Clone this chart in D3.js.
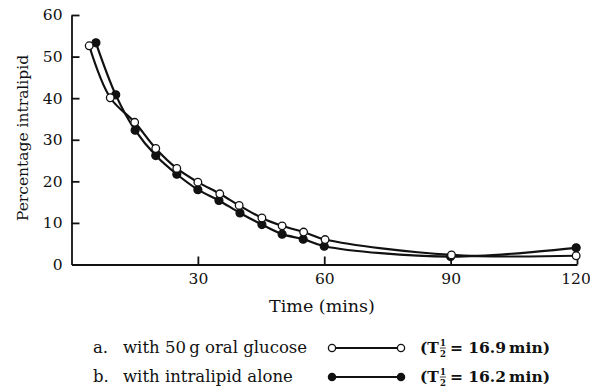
<!DOCTYPE html>
<html><head><meta charset="utf-8">
<script src="https://cdn.jsdelivr.net/npm/d3@7"></script>
<style>
body{margin:0;background:#fff;}
svg{display:block;}
text{font-family:"DejaVu Serif","Liberation Serif",serif;fill:#111;}
</style></head>
<body><svg id="c" width="590" height="389"></svg>
<script>
const xTicks = [30, 60, 90, 120];
const yTicks = [0, 10, 20, 30, 40, 50, 60];
const glucoseTime = [4.2, 9.2, 15, 20, 25, 30, 35.2, 39.8, 45.2, 50, 55.1, 60.2, 90.2, 119.8];
const glucoseVal  = [52.6, 40.1, 34.2, 27.9, 23.1, 19.8, 17.0, 14.2, 11.2, 9.3, 7.8, 6.0, 2.3, 2.1];
const aloneTime   = [5.8, 10.5, 15.1, 20, 25, 30, 35, 40, 45.2, 50, 55, 60, 90, 119.8];
const aloneVal    = [53.3, 40.8, 32.3, 26.2, 21.7, 18.0, 15.4, 12.4, 9.6, 7.3, 6.1, 4.4, 1.9, 4.0];
const seriesLabels = ["a.  with 50\u2009g oral glucose", "b.  with intralipid alone"];
const halfLives = ["16.9", "16.2"];

const svg = d3.select("#c");
const x = d3.scaleLinear().domain([0, 120]).range([71.5, 577]);
const y = d3.scaleLinear().domain([0, 60]).range([264.5, 15]);

// axes
const xAxis = d3.axisBottom(x).tickValues(xTicks).tickSizeInner(-8).tickSizeOuter(0).tickPadding(8);
const yAxis = d3.axisLeft(y).tickValues(yTicks).tickSizeInner(-8).tickSizeOuter(0).tickPadding(9);
const gx = svg.append("g").attr("transform", `translate(0,${y(0)})`).call(xAxis);
const gy = svg.append("g").attr("transform", `translate(${x(0)},0)`).call(yAxis);
[gx, gy].forEach(g => {
  g.attr("font-size", 15.5).attr("font-family", "DejaVu Serif");
  g.selectAll("path,line").attr("stroke", "#111").attr("stroke-width", 1.8);
  g.selectAll("text").attr("font-size", 15.5).style("fill", "#111");
});
gy.selectAll(".tick").filter(d => d === 0).select("line").remove();
gx.selectAll(".tick").filter(d => d === 120).select("text").attr("dx", -1.5);

// axis titles
svg.append("text").attr("x", 322).attr("y", 312).attr("text-anchor", "middle")
  .attr("font-size", 17.5).text("Time (mins)");
svg.append("text").attr("transform", "translate(28,138) rotate(-90)").attr("text-anchor", "middle")
  .attr("font-size", 15.5).text("Percentage intralipid");

// lines
const line = d3.line().x(d => x(d[0])).y(d => y(d[1])).curve(d3.curveCatmullRom.alpha(0.5));
const sA = glucoseTime.map((t, i) => [t, glucoseVal[i]]);
const sB = aloneTime.map((t, i) => [t, aloneVal[i]]);
[sA, sB].forEach(s => svg.append("path").attr("d", line(s)).attr("fill", "none")
  .attr("stroke", "#111").attr("stroke-width", 2.2));

// markers
svg.append("g").selectAll("circle").data(sB).join("circle")
  .attr("cx", d => x(d[0])).attr("cy", d => y(d[1])).attr("r", 4)
  .attr("fill", "#111").attr("stroke", "#111").attr("stroke-width", 1.2);
svg.append("g").selectAll("circle").data(sA).join("circle")
  .attr("cx", d => x(d[0])).attr("cy", d => y(d[1])).attr("r", 3.8)
  .attr("fill", "#fff").attr("stroke", "#111").attr("stroke-width", 1.3);

// legend
const legY = [348, 377];
legY.forEach((ly, i) => {
  const g = svg.append("g");
  const parts = seriesLabels[i].split("  ");
  g.append("text").attr("x", 93).attr("y", ly + 5).attr("font-size", 16.5).text(parts[0]);
  g.append("text").attr("x", 123).attr("y", ly + 5).attr("font-size", 16.5).text(parts[1]);
  g.append("line").attr("x1", 332).attr("x2", 401).attr("y1", ly).attr("y2", ly)
    .attr("stroke", "#111").attr("stroke-width", 2);
  [332, 401].forEach(cx => g.append("circle").attr("cx", cx).attr("cy", ly).attr("r", 3.6)
    .attr("fill", i === 0 ? "#fff" : "#111").attr("stroke", "#111").attr("stroke-width", 1.3));
  const t1 = g.append("text").attr("x", 420).attr("y", ly + 5).attr("font-size", 15.5)
    .attr("font-weight", "bold").text("(T");
  const w = t1.node().getComputedTextLength();
  const fx = 420 + w + 4;
  g.append("text").attr("x", fx).attr("y", ly - 2).attr("font-size", 8.5).attr("font-weight", "bold")
    .attr("text-anchor", "middle").text("1");
  g.append("line").attr("x1", fx - 3).attr("x2", fx + 3).attr("y1", ly).attr("y2", ly)
    .attr("stroke", "#111").attr("stroke-width", 0.8);
  g.append("text").attr("x", fx).attr("y", ly + 8.5).attr("font-size", 8.5).attr("font-weight", "bold")
    .attr("text-anchor", "middle").text("2");
  g.append("text").attr("x", fx + 7).attr("y", ly + 5).attr("font-size", 15.5)
    .attr("font-weight", "bold").text(`= ${halfLives[i]}\u2009min)`);
});
</script></body></html>
